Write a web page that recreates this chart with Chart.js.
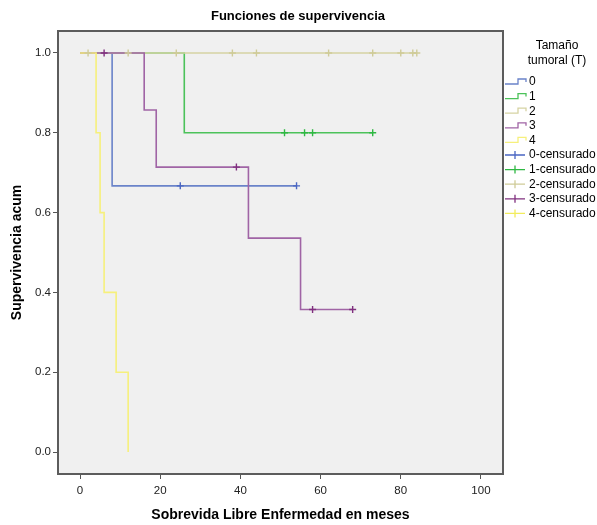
<!DOCTYPE html>
<html>
<head>
<meta charset="utf-8">
<script src="https://cdn.jsdelivr.net/npm/chart.js@4"></script>
<style>
  body { margin: 0; background: #fff; }
  #wrap { width: 597px; height: 525px; }
</style>
</head>
<body>
<div id="wrap"><canvas id="kmCanvas" width="597" height="525"></canvas></div>
<script>
// tiempos (meses) y supervivencia acumulada por grupo
const t0 = [0, 8, 54];
const s0 = [1, 0.667, 0.667];
const t1 = [0, 26, 73];
const s1 = [1, 0.8, 0.8];
const t2 = [0, 84];
const s2 = [1, 1];
const t3 = [0, 16, 19, 42, 55, 68];
const s3 = [1, 0.857, 0.714, 0.536, 0.357, 0.357];
const t4 = [0, 4, 5, 6, 9, 12];
const s4 = [1, 0.8, 0.6, 0.4, 0.2, 0];

// casos censurados
const c0t = [25, 54];
const c0s = [0.667, 0.667];
const c1t = [51, 56, 58, 73];
const c1s = [0.8, 0.8, 0.8, 0.8];
const c2t = [2, 12, 24, 38, 44, 62, 73, 80, 83, 84];
const c2s = [1, 1, 1, 1, 1, 1, 1, 1, 1, 1];
const c3t = [6, 39, 58, 68];
const c3s = [1, 0.714, 0.357, 0.357];
const c4t = [];
const c4s = [];

const xTicks = [0, 20, 40, 60, 80, 100];
const yTicks = [0, 0.2, 0.4, 0.6, 0.8, 1.0];

const groups = ['0', '1', '2', '3', '4'];
const lineColors = ['#6a83c9', '#4cc25a', '#d6d3a3', '#a064a5', '#f6f07c'];
const censColors = ['#4a66c2', '#2fb843', '#cfcb98', '#80307f', '#f2ec5c'];

const FONT = '"Liberation Sans", Arial, sans-serif';

function pts(t, s) {
    return t.map((v, i) => ({x: v, y: s[i]}));
}

const lineData = [pts(t0, s0), pts(t1, s1), pts(t2, s2), pts(t3, s3), pts(t4, s4)];
const censData = [pts(c0t, c0s), pts(c1t, c1s), pts(c2t, c2s), pts(c3t, c3s), pts(c4t, c4s)];
// yellow on top, then purple, tan, green, blue
const lineOrder = [5, 4, 3, 2, 1];

const datasets = [];
groups.forEach((g, i) => {
    datasets.push({
        label: g,
        data: lineData[i],
        borderColor: lineColors[i],
        borderWidth: 1.6,
        stepped: 'before',
        pointRadius: 0,
        fill: false,
        order: lineOrder[i]
    });
});
groups.forEach((g, i) => {
    datasets.push({
        label: g + '-censurado',
        data: censData[i],
        showLine: false,
        pointStyle: 'cross',
        pointRadius: 3.5,
        borderColor: censColors[i],
        borderWidth: 1.4,
        order: 0
    });
});

const framePlugin = {
    id: 'framePlugin',
    beforeDraw(chart) {
        const a = chart.chartArea;
        const ctx = chart.ctx;
        ctx.save();
        ctx.fillStyle = '#f0f0f0';
        ctx.fillRect(a.left, a.top, a.right - a.left, a.bottom - a.top);
        ctx.restore();
    },
    afterDatasetsDraw(chart) {
        const a = chart.chartArea;
        const ctx = chart.ctx;
        ctx.save();
        ctx.strokeStyle = '#5c5c5c';
        ctx.lineWidth = 2;
        ctx.strokeRect(a.left, a.top, a.right - a.left, a.bottom - a.top);
        ctx.restore();
    }
};

// titulo centrado en el lienzo y leyenda a la derecha, estilo SPSS
const legendPlugin = {
    id: 'spssLegend',
    afterDraw(chart) {
        const ctx = chart.ctx;
        ctx.save();
        ctx.fillStyle = '#000';
        ctx.textBaseline = 'middle';
        ctx.textAlign = 'center';
        ctx.font = 'bold 13px ' + FONT;
        ctx.fillText('Funciones de supervivencia', 298, 16);

        ctx.font = '12px ' + FONT;
        ctx.fillText('Tamaño', 557, 46);
        ctx.fillText('tumoral (T)', 557, 61);
        ctx.textAlign = 'left';
        let y = 82;
        groups.forEach((g, i) => {
            ctx.strokeStyle = lineColors[i];
            ctx.lineWidth = 1.3;
            ctx.beginPath();
            ctx.moveTo(505, y + 2);
            ctx.lineTo(518, y + 2);
            ctx.lineTo(518, y - 3);
            ctx.lineTo(526, y - 3);
            ctx.lineTo(526, y);
            ctx.stroke();
            ctx.fillStyle = '#000';
            ctx.fillText(g, 529, y);
            y += 14.6;
        });
        groups.forEach((g, i) => {
            ctx.strokeStyle = censColors[i];
            ctx.lineWidth = 1.3;
            ctx.beginPath();
            ctx.moveTo(505, y);
            ctx.lineTo(525, y);
            ctx.moveTo(515, y - 4);
            ctx.lineTo(515, y + 4);
            ctx.stroke();
            ctx.fillStyle = '#000';
            ctx.fillText(g + '-censurado', 529, y);
            y += 14.6;
        });
        ctx.restore();
    }
};

const kmChart = new Chart(document.getElementById('kmCanvas'), {
    type: 'line',
    data: { datasets: datasets },
    plugins: [framePlugin, legendPlugin],
    options: {
        responsive: false,
        animation: false,
        events: [],
        layout: { padding: { top: 31, right: 94 } },
        plugins: {
            legend: { display: false },
            tooltip: { enabled: false },
            title: { display: false }
        },
        scales: {
            x: {
                type: 'linear',
                min: -5.5,
                max: 105.5,
                afterBuildTicks: s => { s.ticks = xTicks.map(v => ({value: v})); },
                afterFit: s => { s.height = 51; },
                grid: { drawOnChartArea: false, drawTicks: true, tickLength: 5, color: '#555' },
                border: { display: false },
                ticks: {
                    color: '#222',
                    padding: 5,
                    maxRotation: 0,
                    font: { family: FONT, size: 11.5 }
                },
                title: {
                    display: true,
                    text: 'Sobrevida Libre Enfermedad en meses',
                    color: '#000',
                    font: { family: FONT, size: 14, weight: 'bold', lineHeight: 1.2 },
                    padding: { top: 0, bottom: 1 }
                }
            },
            y: {
                type: 'linear',
                min: -0.055,
                max: 1.055,
                afterBuildTicks: s => { s.ticks = yTicks.map(v => ({value: v})); },
                afterFit: s => { s.width = 58; },
                grid: { drawOnChartArea: false, drawTicks: true, tickLength: 5, color: '#555' },
                border: { display: false },
                ticks: {
                    color: '#222',
                    padding: 2,
                    callback: v => v.toFixed(1),
                    font: { family: FONT, size: 11.5 }
                },
                title: {
                    display: true,
                    text: 'Supervivencia acum',
                    color: '#000',
                    font: { family: FONT, size: 14, weight: 'bold', lineHeight: 1.2 },
                    padding: { top: 9, bottom: 0 }
                }
            }
        }
    }
});
</script>
</body>
</html>
